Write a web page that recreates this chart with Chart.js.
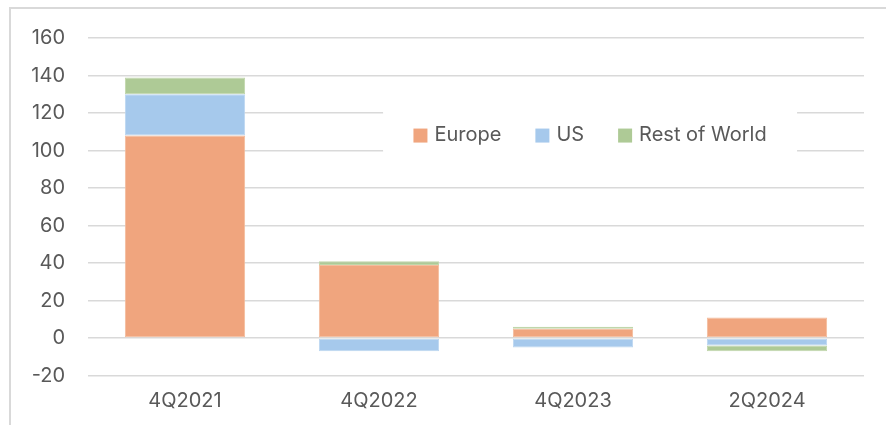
<!DOCTYPE html>
<html>
<head>
<meta charset="utf-8">
<script src="https://cdn.jsdelivr.net/npm/chart.js@4.4.1/dist/chart.umd.min.js"></script>
<style>
  html, body { margin: 0; padding: 0; background: #fff; }
  #wrap { position: relative; width: 886px; height: 425px; }
</style>
</head>
<body>
<div id="wrap"><canvas id="myChart" width="886" height="425"></canvas></div>
<script>
// quarters on the x axis
const trimestres = ['4Q2021', '4Q2022', '4Q2023', '2Q2024']

// stacked contributions per region
const europa = [108, 39, 5, 11]
const eua = [22, -7, -5, -4]
const restoMundo = [9, 2, 1, -3]

const nomesSeries = ['Europe', 'US', 'Rest of World']
const coresSeries = ['#F0A57E', '#A6C9EC', '#AECA96']
const bordasSeries = ['#F4BC9C', '#BCD6F0', '#C0D6AB']

const corTexto = '#595959'
const corGrade = '#D9D9D9'
const fonte = 'Inter, "Liberation Sans", sans-serif'

// thin frame around the chart (only top and left edges show)
const moldura = {
    id: 'moldura',
    beforeDraw(chart) {
        const c = chart.ctx
        c.save()
        c.strokeStyle = corGrade
        c.lineWidth = 2
        c.beginPath()
        c.moveTo(10, chart.height)
        c.lineTo(10, 8)
        c.lineTo(chart.width, 8)
        c.stroke()
        c.restore()
    }
}

// legend drawn inside the plot, on a white box over the gridlines
const legendaInterna = {
    id: 'legendaInterna',
    afterDraw(chart) {
        const c = chart.ctx
        const area = chart.chartArea
        c.save()
        c.font = '20px ' + fonte
        const quad = 14, gapTexto = 7, gapItem = 34
        let total = 0
        chart.data.datasets.forEach((ds, i) => {
            total += quad + gapTexto + c.measureText(ds.label).width
            if (i < chart.data.datasets.length - 1) total += gapItem
        })
        const centroX = area.left + (area.right - area.left) * 0.647
        const centroY = chart.scales.y.getPixelForValue(108.5)
        c.fillStyle = '#fff'
        c.fillRect(centroX - 207, centroY - 23, 414, 43)
        let x = centroX - total / 2
        c.textBaseline = 'middle'
        chart.data.datasets.forEach(ds => {
            c.fillStyle = ds.backgroundColor
            c.fillRect(x, centroY - quad / 2 + 1, quad, quad)
            x += quad + gapTexto
            c.fillStyle = corTexto
            c.fillText(ds.label, x, centroY)
            x += c.measureText(ds.label).width + gapItem
        })
        c.restore()
    }
}

const ctx = document.getElementById('myChart').getContext('2d')

const myChart = new Chart(ctx, {
    type: 'bar',
    data: {
        labels: trimestres,
        datasets: [europa, eua, restoMundo].map((dados, i) => ({
            label: nomesSeries[i],
            data: dados,
            backgroundColor: coresSeries[i],
            borderColor: bordasSeries[i],
            borderWidth: 1,
            borderSkipped: false,
            categoryPercentage: 1,
            barPercentage: 0.62
        }))
    },
    options: {
        responsive: false,
        animation: false,
        layout: {
            padding: { top: 38, right: 22, left: 0, bottom: 0 }
        },
        plugins: {
            legend: { display: false },
            tooltip: { enabled: false }
        },
        scales: {
            x: {
                stacked: true,
                grid: { display: false, drawTicks: false },
                border: { display: false },
                ticks: {
                    color: corTexto,
                    font: { family: fonte, size: 20 },
                    padding: 13
                },
                afterFit(scale) { scale.height = 49.5 }
            },
            y: {
                stacked: true,
                min: -20,
                max: 160,
                grid: { color: corGrade, lineWidth: 1.5, drawTicks: false },
                border: { display: false },
                ticks: {
                    stepSize: 20,
                    color: corTexto,
                    font: { family: fonte, size: 20 },
                    padding: 23
                },
                afterFit(scale) { scale.width = 88 }
            }
        }
    },
    plugins: [moldura, legendaInterna]
})
</script>
</body>
</html>
